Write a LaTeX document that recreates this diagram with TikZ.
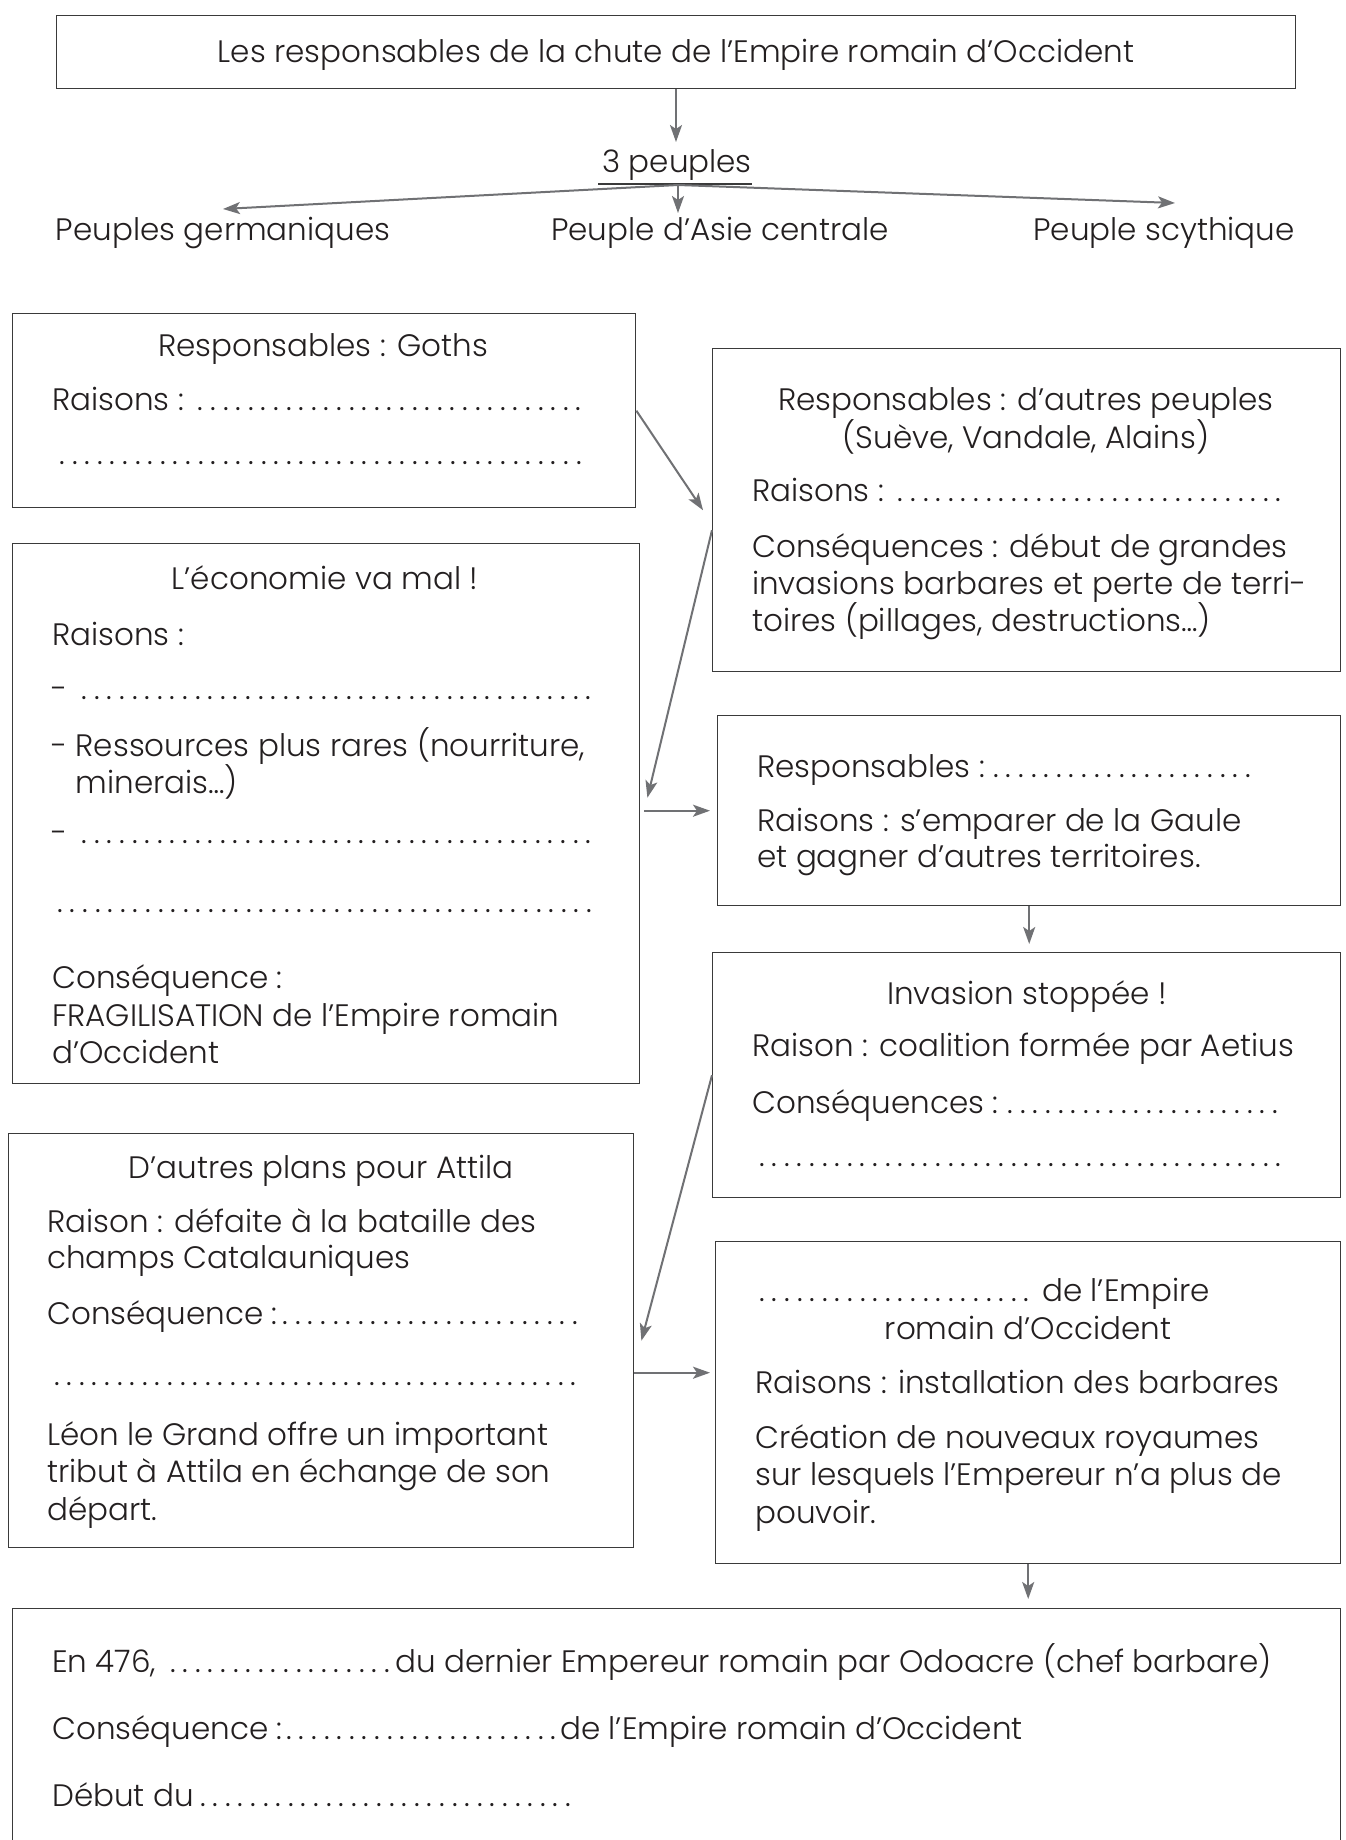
\documentclass[tikz,border=0pt]{standalone}
\usepackage{fontspec}
\setmainfont{Poppins Light}
\usetikzlibrary{arrows.meta}
\definecolor{txtc}{HTML}{231F20}
\definecolor{boxc}{HTML}{3A3A3A}
\definecolor{arrc}{HTML}{707174}
\newcommand\fsz{\fontsize{31}{37}\selectfont}
\newcommand\dl{\cleaders\hbox to 12.6pt{\hss.\hss}\hfill}
\newcommand\dotsw[1]{\hbox to #1pt{\dl}}
\newcommand\lineto[2]{\hbox to #1pt{#2\dl}}
\begin{document}
\begin{tikzpicture}[x=1pt,y=-1pt,
  bx/.style={draw=boxc, line width=1.4pt, anchor=north west, inner sep=0pt},
  tx/.style={anchor=base, inner sep=0pt, font=\fsz, text=txtc},
  tl/.style={anchor=base west, inner sep=0pt, font=\fsz, text=txtc},
  arr/.style={draw=arrc, line width=2pt, -{Stealth[length=17pt,width=12pt,inset=4pt]}}]
\useasboundingbox (0,0) rectangle (1346,1840);
\clip (0,0) rectangle (1346,1840);
\fill[white] (0,0) rectangle (1346,1840);

% ---------- top ----------
\node[bx, minimum width=1239pt, minimum height=73pt] (top) at (56,15) {};
\node[tx] (toptext) at (676,62) {Les responsables de la chute de l’Empire romain d’Occident};
\node[tx] (trois) at (677,172) {3 peuples};
\coordinate (tip0) at (676,142);
\draw[arr] (top.south -| tip0) -- (tip0);
\coordinate (ul1) at (598,184);
\coordinate (ul2) at (752,184);
\draw[draw=boxc, line width=2.5pt] (ul1) -- (ul2);
\coordinate (br) at (678,185);
\coordinate (tipL) at (223,209);
\coordinate (tipC) at (678,213);
\coordinate (tipR) at (1175,203);
\draw[arr] (br) -- (tipL);
\draw[arr] (br) -- (tipC);
\draw[arr] (br) -- (tipR);
\node[tx] (germ) at (223,240) {Peuples germaniques};
\node[tx] (asie) at (720,240) {Peuple d’Asie centrale};
\node[tx] (scyth) at (1164,240) {Peuple scythique};

% ---------- Goths ----------
\node[bx, minimum width=623pt, minimum height=194pt] (goths) at (12,313) {};
\node[tx] (g1) at (323,356) {Responsables : Goths};
\node[tl] (g2) at (52,410) {\lineto{535}{Raisons :\ }};
\node[tl] (g3) at (54,464) {\dotsw{533}};

% ---------- autres peuples ----------
\node[bx, minimum width=628pt, minimum height=323pt] (autres) at (712,348) {};
\node[tx] (a1) at (1026,410) {Responsables : d’autres peuples};
\node[tx] (a2) at (1026,448) {(Suève, Vandale, Alains)};
\node[tl] (a3) at (752,501) {\lineto{535}{Raisons :\ }};
\node[tl] (a4) at (752,557) {Conséquences : début de grandes};
\node[tl] (a5) at (752,594) {invasions barbares et perte de terri-};
\node[tl] (a6) at (752,631) {toires (pillages, destructions…)};

% ---------- economie ----------
\node[bx, minimum width=627pt, minimum height=540pt] (eco) at (12,543) {};
\node[tx] (e1) at (325,589) {L’économie va mal !};
\node[tl] (e2) at (52,645) {Raisons :};
\node[tl] (e3) at (51,699) {\lineto{546}{-\ }};
\node[tl] (e4) at (51,756) {- Ressources plus rares (nourriture,};
\node[tl] (e5) at (51,793) {\phantom{-\ }minerais…)};
\node[tl] (e6) at (51,843) {\lineto{546}{-\ }};
\node[tl] (e7) at (52,912) {\dotsw{545}};
\node[tl] (e8) at (52,988) {Conséquence :};
\node[tl] (e9) at (52,1026) {FRAGILISATION de l’Empire romain};
\node[tl] (e10) at (52,1063) {d’Occident};

% ---------- responsables ----------
\node[bx, minimum width=623pt, minimum height=190pt] (resp) at (717,715) {};
\node[tl] (r1) at (757,777) {\lineto{502}{Responsables :}};
\node[tl] (r2) at (757,831) {Raisons : s’emparer de la Gaule};
\node[tl] (r3) at (757,867) {et gagner d’autres territoires.};

% ---------- invasion ----------
\node[bx, minimum width=628pt, minimum height=245pt] (inv) at (712,952) {};
\node[tx] (i1) at (1027,1004) {Invasion stoppée !};
\node[tl] (i2) at (752,1056) {Raison : coalition formée par Aetius};
\node[tl] (i3) at (752,1113) {\lineto{535}{Conséquences :}};
\node[tl] (i4) at (753,1166) {\dotsw{534}};

% ---------- Attila ----------
\node[bx, minimum width=625pt, minimum height=414pt] (att) at (8,1133) {};
\node[tx] (t1) at (321,1178) {D’autres plans pour Attila};
\node[tl] (t2) at (47,1232) {Raison : défaite à la bataille des};
\node[tl] (t3) at (47,1268) {champs Catalauniques};
\node[tl] (t4) at (47,1324) {\lineto{536}{Conséquence :}};
\node[tl] (t5) at (47,1385) {\dotsw{536}};
\node[tl] (t6) at (47,1445) {Léon le Grand offre un important};
\node[tl] (t7) at (47,1482) {tribut à Attila en échange de son};
\node[tl] (t8) at (47,1520) {départ.};

% ---------- empire ----------
\node[bx, minimum width=625pt, minimum height=322pt] (emp) at (715,1241) {};
\node[tl] (m1) at (755,1301) {\hbox to 287pt{\dl\ }de l’Empire};
\node[tx] (m2) at (1028,1339) {romain d’Occident};
\node[tl] (m3) at (755,1393) {Raisons : installation des barbares};
\node[tl] (m4) at (755,1448) {Création de nouveaux royaumes};
\node[tl] (m5) at (755,1485) {sur lesquels l’Empereur n’a plus de};
\node[tl] (m6) at (755,1523) {pouvoir.};

% ---------- bottom ----------
\node[bx, minimum width=1328pt, minimum height=300pt] (bot) at (12,1608) {};
\node[tl] (b1) at (52,1672) {\hbox to 343pt{En 476, \dl}du dernier Empereur romain par Odoacre (chef barbare)};
\node[tl] (b2) at (52,1739) {\hbox to 508pt{Conséquence :\dl}de l’Empire romain d’Occident};
\node[tl] (b3) at (52,1806) {\hbox to 525pt{Début du\dl}};

% ---------- connectors ----------
\draw[arr] (goths.east) -- ([xshift=-9pt]autres.west);
\draw[arr] ([yshift=-20pt]autres.west) -- ([xshift=7pt,yshift=16pt]eco.east);
\draw[arr, shorten <=4pt, shorten >=7pt] (eco.east |- resp.west) -- (resp.west);
\draw[arr, shorten >=8pt] (resp.south) -- (resp.south |- inv.north);
\draw[arr] (inv.west) -- ([xshift=7pt]att.east);
\draw[arr, shorten >=5pt] ([yshift=-32pt]att.east) -- ([yshift=-32pt]att.east -| emp.west);
\draw[arr, shorten >=9pt] (emp.south) -- (emp.south |- bot.north);
\end{tikzpicture}
\end{document}
